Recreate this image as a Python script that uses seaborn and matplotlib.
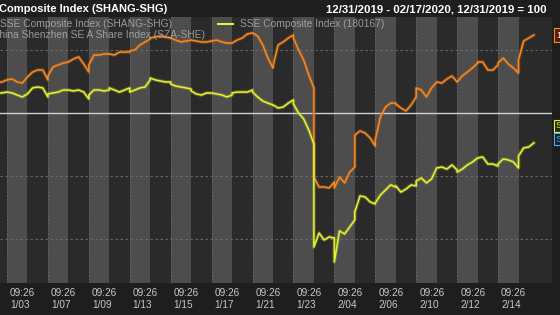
import matplotlib
matplotlib.use("Agg")
import matplotlib.pyplot as plt
import matplotlib.transforms as mtransforms
import pandas as pd
import seaborn as sns

# ---------------- data ----------------
days = ["1/02", "1/03", "1/06", "1/07", "1/08", "1/09", "1/10", "1/13", "1/14",
        "1/15", "1/16", "1/17", "1/20", "1/21", "1/22", "1/23", "2/03", "2/04",
        "2/05", "2/06", "2/07", "2/10", "2/11", "2/12", "2/13", "2/14", "2/17"]
session_times = ["09:30", "10:30", "11:30", "14:00", "15:00"]
tick_time = "09:26"

# China Shenzhen SE A Share Index (12/31/2019 = 100), 5 readings per session
sza = [101.84, 101.84, 101.90, 101.97, 102.10,
       102.10, 102.16, 101.97, 101.90, 102.29,
       102.29, 102.60, 102.73, 102.73, 102.10,
       102.35, 102.92, 103.05, 103.17, 103.24,
       103.24, 103.43, 103.56, 103.11, 102.60,
       103.05, 103.68, 103.68, 103.75, 103.75,
       103.75, 103.68, 103.87, 103.87, 103.87,
       103.94, 104.00, 104.32, 104.51, 104.70,
       104.76, 104.83, 104.89, 104.83, 104.76,
       104.76, 104.63, 104.51, 104.57, 104.63,
       104.63, 104.57, 104.51, 104.51, 104.57,
       104.57, 104.63, 104.51, 104.44, 104.44,
       104.44, 104.63, 104.76, 105.02, 105.08,
       105.08, 104.89, 104.32, 103.49, 102.86,
       102.98, 104.32, 104.51, 104.76, 104.95,
       104.76, 104.00, 103.37, 102.41, 101.59,
       95.94, 95.30, 95.30, 95.24, 95.62,
       95.24, 95.94, 95.56, 96.25, 96.57,
       98.60, 98.86, 98.73, 98.41, 97.90,
       98.29, 99.75, 100.38, 100.63, 100.63,
       100.57, 100.32, 100.13, 100.51, 101.02,
       101.59, 101.46, 101.02, 101.59, 101.97,
       101.97, 101.90, 102.16, 102.35, 101.97,
       101.97, 102.35, 102.60, 102.86, 103.17,
       103.24, 103.24, 102.73, 102.73, 103.05,
       103.17, 103.49, 103.11, 102.86, 102.54,
       103.37, 104.57, 104.76, 104.95]

# SSE Composite Index (12/31/2019 = 100), 5 readings per session
sse = [101.21, 101.21, 101.27, 101.27, 101.33,
       101.33, 101.27, 101.14, 101.02, 101.21,
       101.21, 101.59, 101.65, 101.59, 101.02,
       101.21, 101.27, 101.33, 101.46, 101.46,
       101.46, 101.40, 101.46, 101.33, 100.89,
       101.14, 101.46, 101.46, 101.40, 101.46,
       101.59, 101.46, 101.33, 101.46, 101.59,
       101.33, 101.46, 101.59, 101.65, 102.10,
       102.22, 102.10, 102.03, 101.97, 101.97,
       101.84, 101.71, 101.65, 101.59, 101.52,
       101.40, 101.21, 101.14, 101.27, 101.27,
       101.27, 101.21, 101.14, 101.02, 101.14,
       101.27, 101.33, 101.33, 101.33, 101.46,
       101.33, 101.02, 100.76, 100.63, 100.51,
       100.51, 100.32, 100.38, 100.63, 100.83,
       100.57, 100.00, 99.62, 98.92, 98.03,
       91.49, 92.38, 91.94, 92.13, 92.06,
       90.54, 92.51, 92.32, 92.76, 93.21,
       93.71, 94.73, 94.67, 94.35, 94.22,
       94.29, 94.79, 95.11, 95.43, 95.30,
       95.37, 94.98, 95.17, 95.43, 95.37,
       95.68, 95.87, 95.56, 95.81, 96.51,
       96.51, 96.57, 96.44, 96.70, 96.38,
       96.25, 96.44, 96.70, 96.89, 97.14,
       97.14, 97.21, 96.76, 96.76, 96.63,
       96.76, 97.08, 97.02, 96.89, 96.51,
       97.27, 97.78, 97.84, 98.10]

series_names = ["China Shenzhen SE A Share Index (SZA-SHE)", "SSE Composite Index (180167)"]
base_level = 100
grid_levels = [92, 96, 104]
title_text = "Composite Index (SHANG-SHG)"
range_text = "12/31/2019 - 02/17/2020, 12/31/2019 = 100"
legend_top = "SSE Composite Index (SHANG-SHG)"


# ---------------- build table ----------------
def minutes_into_session(t):
    h, m = map(int, t.split(":"))
    mins = h * 60 + m
    if mins <= 11 * 60 + 30:
        return mins - (9 * 60 + 30)
    return 120 + mins - 13 * 60


frac = [minutes_into_session(t) / 240 for t in session_times]


def positions(n_values):
    pos = []
    d = 0
    k = 0
    for _ in range(n_values):
        pos.append(d + frac[k])
        k += 1
        if k == len(frac):
            k = 0
            d += 1
    return pos


rows = []
for name, vals in zip(series_names, [sza, sse]):
    for p, v in zip(positions(len(vals)), vals):
        rows.append({"series": name, "pos": p, "value": v})
df = pd.DataFrame(rows)

# ---------------- style ----------------
plt.rcParams["font.family"] = ["Liberation Sans", "DejaVu Sans"]

W, H = 560, 315
fig = plt.figure(figsize=(W / 100, H / 100), dpi=100)
fig.patch.set_facecolor("#1e1e1e")
ax = fig.add_axes([0, (H - 283) / H, 552 / W, (283 - 17) / H])
ax.set_facecolor("#2a2a2a")

for i in range(len(days)):
    if i % 2 == 1:
        ax.axvspan(i, i + 1, color="#4d4d4d", lw=0, zorder=0)

for g in grid_levels:
    ax.axhline(g, color="#707070", lw=0.6, ls=(0, (3, 3)), zorder=1)
for i in range(1, len(days), 2):
    ax.axvline(i, color="#707070", lw=0.5, ls=(0, (2, 3)), zorder=1)
ax.axhline(base_level, color="#d0d0d0", lw=1.0, zorder=2)

palette = {series_names[0]: "#f28c28", series_names[1]: "#e6f23a"}
glow = {series_names[0]: "#b85a14", series_names[1]: "#9aa822"}
sns.lineplot(data=df, x="pos", y="value", hue="series", palette=glow,
             estimator=None, sort=False, legend=False, ax=ax, lw=2.6, alpha=0.45)
sns.lineplot(data=df, x="pos", y="value", hue="series", palette=palette,
             estimator=None, sort=False, legend=False, ax=ax, lw=1.1)

ax.set_xlim(0.658, 27.637)
ax.set_ylim(89.206, 106.095)
ax.set_xticks([])
ax.set_yticks([])
ax.set_xlabel("")
ax.set_ylabel("")
for s in ax.spines.values():
    s.set_visible(False)

# tick labels, left-aligned at day start
trans = mtransforms.blended_transform_factory(ax.transData, ax.transAxes)
for i in range(1, len(days), 2):
    off1 = mtransforms.ScaledTranslation(3 / 100, -10 / 100, fig.dpi_scale_trans)
    off2 = mtransforms.ScaledTranslation(3 / 100, -22 / 100, fig.dpi_scale_trans)
    ax.text(i, 0, tick_time, transform=trans + off1, ha="left", va="center",
            color="#c8c8c8", fontsize=7.2, clip_on=False)
    ax.text(i, 0, days[i], transform=trans + off2, ha="left", va="center",
            color="#c8c8c8", fontsize=7.2, clip_on=False)

# header
fig.text(-1 / W, 1 - 9 / H, title_text, ha="left", va="center", color="white",
         fontsize=8, fontweight="bold")
fig.text(547 / W, 1 - 9 / H, range_text, ha="right", va="center", color="white",
         fontsize=8.2, fontweight="bold")

# legend texts
fig.text(0.5 / W, 1 - 24 / H, legend_top, ha="left", va="center", color="#b4b4b4",
         alpha=0.8, fontsize=7.4)
fig.text(-7.5 / W, 1 - 35 / H, series_names[0], ha="left", va="center",
         color="#b4b4b4", alpha=0.8, fontsize=7.4)
fig.lines.append(plt.Line2D([218 / W, 233 / W], [1 - 24 / H, 1 - 24 / H],
                            transform=fig.transFigure, color=palette[series_names[1]], lw=1.5))
fig.text(240 / W, 1 - 24 / H, series_names[1], ha="left", va="center",
         color="#b4b4b4", alpha=0.8, fontsize=7.4)

# right-edge last-value tags (cut by the figure edge)
fig.text(556 / W, 1 - 35 / H, f"{sza[-1]:.2f}", ha="left", va="center", color="white",
         fontsize=6.5, bbox=dict(boxstyle="square,pad=0.25", fc="#5a1a0c", ec="#f28c28", lw=0.8))
fig.text(556 / W, 1 - 126 / H, "SSE", ha="left", va="center", color="#e6f23a",
         fontsize=6.5, bbox=dict(boxstyle="square,pad=0.2", fc="#2a2a10", ec="#e6f23a", lw=0.8))
fig.text(556 / W, 1 - 139 / H, "SZA", ha="left", va="center", color="#50b0e0",
         fontsize=6.5, bbox=dict(boxstyle="square,pad=0.2", fc="#102030", ec="#50b0e0", lw=0.8))

fig.savefig("out.png", dpi=100, facecolor=fig.get_facecolor())
